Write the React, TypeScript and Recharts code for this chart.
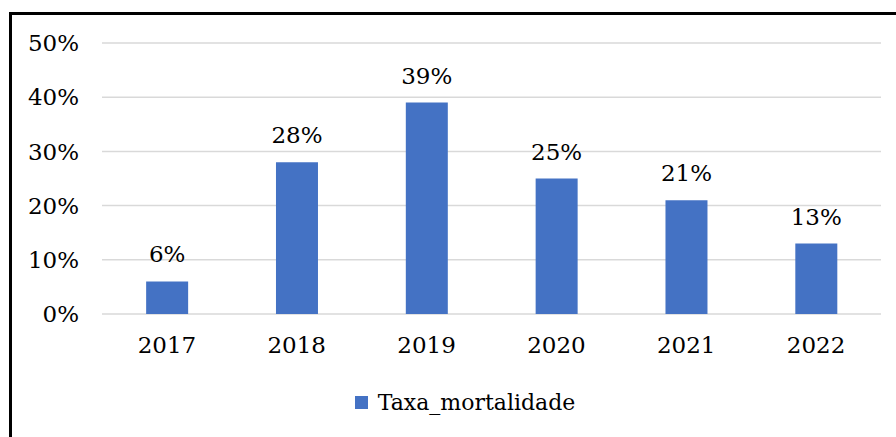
import { BarChart, Bar, XAxis, YAxis, CartesianGrid, LabelList, Legend } from "recharts";

const years = ["2017", "2018", "2019", "2020", "2021", "2022"];
const taxaMortalidade = [6, 28, 39, 25, 21, 13];
const yTicks = [0, 10, 20, 30, 40, 50];

const seriesName = "Taxa_mortalidade";
const barColor = "#4472C4";
const font = "'DejaVu Serif', serif";
const fontSize = 23;

const data = years.map((year, i) => ({ year, value: taxaMortalidade[i] }));

const LegendBox = () => (
  <div
    style={{
      display: "flex",
      alignItems: "center",
      justifyContent: "center",
      fontFamily: font,
      fontSize: 22,
      color: "#000",
    }}
  >
    <span style={{ width: 13, height: 13, background: barColor, marginRight: 10, display: "inline-block" }} />
    <span>{seriesName}</span>
  </div>
);

const App = () => {
  return (
    <div style={{ position: "absolute", left: 0, top: 0, width: 896, height: 437, background: "#fff", fontFamily: font }}>
      {/* frame: only left and top edges are visible in the crop */}
      <div
        style={{
          position: "absolute",
          left: 9,
          top: 12,
          width: 900,
          height: 440,
          borderLeft: "3px solid #000",
          borderTop: "3px solid #000",
        }}
      />
      <div style={{ position: "absolute", left: 0, top: 0 }}>
        <BarChart
          width={896}
          height={437}
          data={data}
          margin={{ top: 43, right: 15, bottom: 0, left: 22 }}
          barCategoryGap="34%"
        >
          <CartesianGrid vertical={false} stroke="#d9d9d9" strokeWidth={1.5} />
          <XAxis
            dataKey="year"
            axisLine={false}
            tickLine={false}
            tickSize={0}
            tickMargin={23}
            height={123}
            tick={{ fill: "#000", fontSize, fontFamily: font }}
          />
          <YAxis
            domain={[0, 50]}
            ticks={yTicks}
            width={80}
            axisLine={false}
            tickLine={false}
            tickSize={0}
            tickMargin={23}
            tickFormatter={(v: number) => `${v}%`}
            tick={{ fill: "#000", fontSize, fontFamily: font }}
          />
          <Legend
            layout="horizontal"
            verticalAlign="middle"
            align="center"
            wrapperStyle={{ top: 390, left: 0, width: 930 }}
            content={() => <LegendBox />}
          />
          <Bar dataKey="value" name={seriesName} fill={barColor} isAnimationActive={false}>
            <LabelList
              dataKey="value"
              position="top"
              offset={19}
              formatter={(v: number) => `${v}%`}
              fill="#000"
              fontSize={fontSize}
              fontFamily={font}
            />
          </Bar>
        </BarChart>
      </div>
    </div>
  );
};

export default App;
